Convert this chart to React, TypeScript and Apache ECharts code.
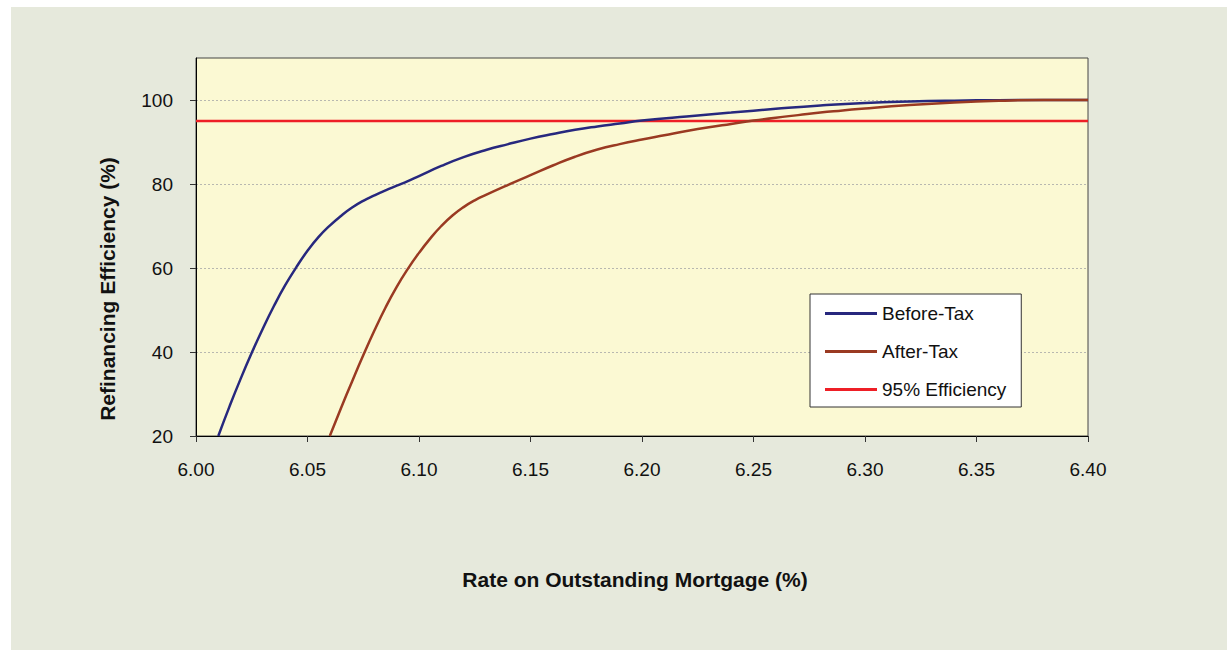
import React, { useEffect, useRef } from "react";
import * as echarts from "echarts";

const beforeTaxX = [6.01, 6.015, 6.02, 6.025, 6.03, 6.035, 6.04, 6.045, 6.05, 6.055, 6.06, 6.065, 6.07, 6.075, 6.08, 6.085, 6.09, 6.095, 6.1, 6.11, 6.12, 6.13, 6.14, 6.15, 6.16, 6.17, 6.18, 6.19, 6.2, 6.22, 6.24, 6.26, 6.28, 6.3, 6.32, 6.34, 6.36, 6.38, 6.4];
const beforeTaxY = [20, 27.0, 33.6, 39.8, 45.6, 51.0, 55.9, 60.2, 64.1, 67.4, 70.1, 72.4, 74.4, 76.0, 77.3, 78.5, 79.6, 80.7, 81.9, 84.3, 86.4, 88.1, 89.5, 90.8, 91.9, 92.9, 93.7, 94.4, 95.1, 96.1, 97.0, 97.9, 98.7, 99.3, 99.65, 99.85, 99.95, 100, 100];

const afterTaxX = [6.06, 6.065, 6.07, 6.075, 6.08, 6.085, 6.09, 6.095, 6.1, 6.105, 6.11, 6.115, 6.12, 6.125, 6.13, 6.14, 6.15, 6.16, 6.17, 6.18, 6.19, 6.2, 6.21, 6.22, 6.23, 6.24, 6.25, 6.26, 6.27, 6.28, 6.29, 6.3, 6.32, 6.34, 6.36, 6.38, 6.4];
const afterTaxY = [20, 26.6, 33.0, 39.2, 45.1, 50.6, 55.5, 59.8, 63.6, 67.0, 70.0, 72.5, 74.5, 76.1, 77.4, 79.8, 82.1, 84.4, 86.5, 88.2, 89.5, 90.6, 91.6, 92.6, 93.5, 94.3, 95.1, 95.8, 96.4, 97.0, 97.5, 98.0, 98.8, 99.4, 99.8, 100, 100];

const efficiencyX = [6.0, 6.4];
const efficiencyY = [95, 95];

const seriesNames = ["Before-Tax", "After-Tax", "95% Efficiency"];
const yTickValues = [20, 40, 60, 80, 100];
const xAxisTitle = "Rate on Outstanding Mortgage (%)";
const yAxisTitle = "Refinancing Efficiency (%)";

const FONT = "'Liberation Sans', Arial, sans-serif";

function pairs(xs: number[], ys: number[]) {
  return xs.map((x, i) => [x, ys[i]]);
}

export default function App() {
  const ref = useRef<HTMLDivElement>(null);
  useEffect(() => {
    if (!ref.current) return;
    const chart = echarts.init(ref.current, null, { renderer: "svg" });
    chart.setOption({
      animation: false,
      backgroundColor: "#ffffff",
      textStyle: { fontFamily: FONT },
      graphic: [
        {
          type: "rect",
          z: -10,
          silent: true,
          shape: { x: 11, y: 7, width: 1216, height: 643 },
          style: { fill: "#e6e9dc" },
        },
        {
          type: "text",
          x: 635,
          y: 579,
          style: {
            text: xAxisTitle,
            font: `bold 21px ${FONT}`,
            fill: "#111111",
            align: "center",
            verticalAlign: "middle",
          },
        },
        {
          type: "text",
          x: 107,
          y: 289,
          rotation: Math.PI / 2,
          style: {
            text: yAxisTitle,
            font: `bold 21px ${FONT}`,
            fill: "#111111",
            align: "center",
            verticalAlign: "middle",
          },
        },
      ],
      grid: {
        left: 196,
        top: 58,
        right: 139,
        bottom: 214,
        show: true,
        backgroundColor: "#fbf9d3",
        borderColor: "#444444",
        borderWidth: 1,
      },
      legend: {
        orient: "vertical",
        left: 810,
        top: 294,
        data: seriesNames.map((n) => ({ name: n, icon: "rect" })),
        backgroundColor: "#ffffff",
        borderColor: "#333333",
        borderWidth: 1,
        borderRadius: 0,
        padding: [10, 15, 8, 15],
        itemWidth: 52,
        itemHeight: 3,
        itemGap: 19,
        textStyle: { fontSize: 19, color: "#111111", fontFamily: FONT },
      },
      xAxis: {
        type: "value",
        min: 6.0,
        max: 6.4,
        interval: 0.05,
        axisLine: { show: true, lineStyle: { color: "#000000", width: 1 } },
        axisTick: { show: true, inside: false, length: 6, lineStyle: { color: "#333333" } },
        axisLabel: {
          margin: 24,
          fontSize: 19,
          color: "#111111",
          fontFamily: FONT,
          formatter: (v: number) => v.toFixed(2),
        },
        splitLine: { show: false },
      },
      yAxis: {
        type: "value",
        min: 20,
        max: 110,
        interval: 20,
        axisLine: { show: true, lineStyle: { color: "#000000", width: 1 } },
        axisTick: { show: true, inside: false, length: 6, customValues: yTickValues, lineStyle: { color: "#333333" } },
        axisLabel: {
          margin: 23,
          fontSize: 19,
          color: "#111111",
          fontFamily: FONT,
          customValues: yTickValues,
        },
        splitLine: { show: true, lineStyle: { color: "#b8b8b0", type: [2, 2], width: 1 } },
      },
      series: [
        {
          name: seriesNames[0],
          type: "line",
          data: pairs(beforeTaxX, beforeTaxY),
          symbol: "none",
          smooth: 0.5,
          lineStyle: { color: "#27287e", width: 2.5 },
          itemStyle: { color: "#27287e" },
          z: 3,
        },
        {
          name: seriesNames[1],
          type: "line",
          data: pairs(afterTaxX, afterTaxY),
          symbol: "none",
          smooth: 0.5,
          lineStyle: { color: "#9a3a22", width: 2.5 },
          itemStyle: { color: "#9a3a22" },
          z: 4,
        },
        {
          name: seriesNames[2],
          type: "line",
          data: pairs(efficiencyX, efficiencyY),
          symbol: "none",
          lineStyle: { color: "#ee1f26", width: 2.5 },
          itemStyle: { color: "#ee1f26" },
          z: 2,
        },
      ],
    });
    return () => chart.dispose();
  }, []);
  return (
    <div
      ref={ref}
      style={{ position: "absolute", left: 0, top: 0, width: 1227, height: 650 }}
    />
  );
}
